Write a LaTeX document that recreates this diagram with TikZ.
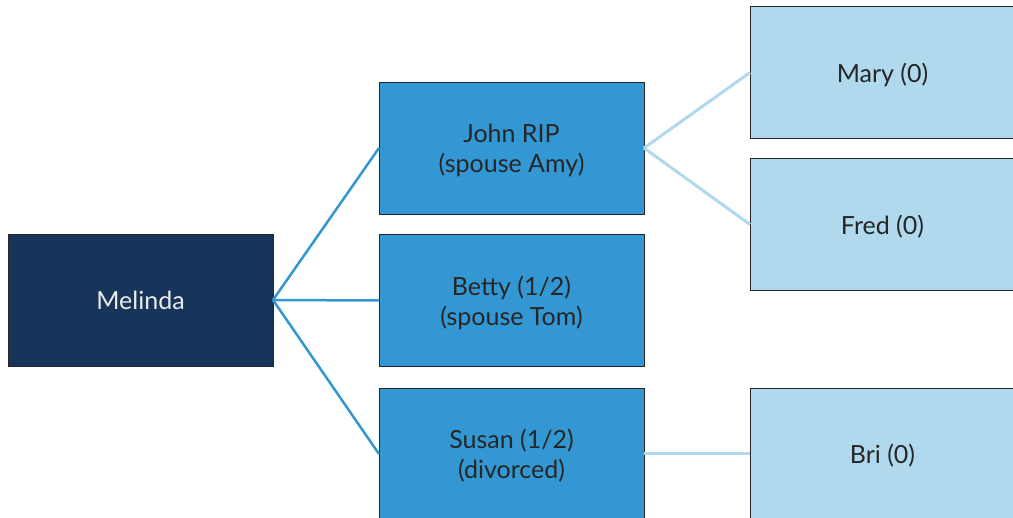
\documentclass[tikz,border=0pt]{standalone}
\usepackage{fontspec}
\setmainfont{Lato}
\usepackage{tikz}
\definecolor{navy}{HTML}{17355A}
\definecolor{midblue}{HTML}{3397D3}
\definecolor{paleblue}{HTML}{B0D9EE}
\tikzset{person/.style={draw=black!85, line width=0.6pt, minimum width=265pt, minimum height=132pt,
    align=center, font=\fontsize{25}{30}\selectfont, inner sep=0pt, outer sep=0pt, text depth=0pt},
  gen1/.style={person, fill=navy, text=white!92!black},
  gen2/.style={person, fill=midblue, text=black!85},
  gen3/.style={person, fill=paleblue, text=black!85}}

\begin{document}
\begin{tikzpicture}[x=1pt,y=-1pt]
\useasboundingbox (0,0) rectangle (1013,518);
\clip (0,0) rectangle (1013,518);
\fill[white] (0,0) rectangle (1013,518);

\node[gen1] (melinda) at (140.5,300)  {Melinda};
\node[gen2] (john) at (511.5,148)  {John RIP\\(spouse Amy)};
\node[gen2] (betty) at (511.5,300.5)  {Betty (1/2)\\(spouse Tom)};
\node[gen2] (susan) at (511.5,454)  {Susan (1/2)\\(divorced)};
\node[gen3] (mary) at (882.5,72.5)  {Mary (0)};
\node[gen3] (fred) at (882.5,224.5)  {Fred (0)};
\node[gen3] (bri) at (882.5,454)  {Bri (0)};

\draw[midblue, line width=2.5pt] (melinda.east) -- (john.west);
\draw[midblue, line width=2.5pt] (melinda.east) -- (betty.west);
\draw[midblue, line width=2.5pt] (melinda.east) -- (susan.west);
\draw[paleblue, line width=3pt] (john.east) -- (mary.west);
\draw[paleblue, line width=3pt] (john.east) -- (fred.west);
\draw[paleblue, line width=3pt] (susan.east) -- (bri.west);
\end{tikzpicture}
\end{document}
